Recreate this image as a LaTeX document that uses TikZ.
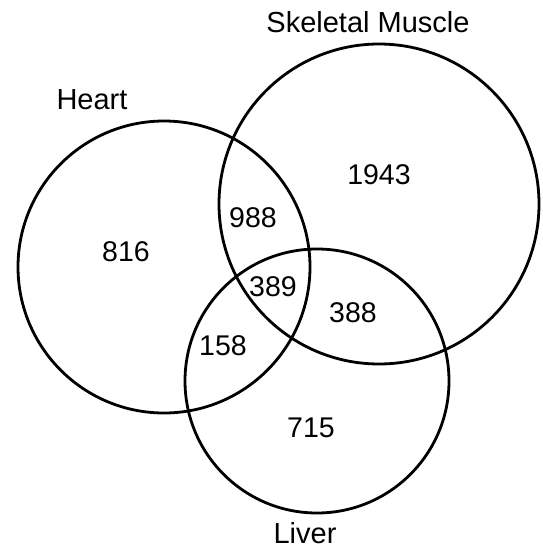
\documentclass[tikz,border=0pt]{standalone}
\usepackage{fontspec}
\setmainfont{Liberation Sans}
\usepackage{tikz}
\usetikzlibrary{positioning}

\begin{document}
\begin{tikzpicture}[x=1pt, y=-1pt,
    set/.style={circle, draw, line width=2.8pt, inner sep=0pt},
    count/.style={inner sep=0pt, font=\fontsize{28.5}{34}\selectfont},
    title/.style={inner sep=0pt, font=\fontsize{29}{34}\selectfont}
]
    \useasboundingbox (0,0) rectangle (542,549);

    % Sets
    \node[set, minimum size=292pt] (heart) at (164,267) {};
    \node[set, minimum size=320pt] (muscle) at (379,204) {};
    \node[set, minimum size=264pt] (liver) at (317,381) {};

    % Set names
    \node[title] (heartname) at (92,100) {Heart};
    \node[title] (musclename) at (368,22) {Skeletal Muscle};
    \node[title] (livername) at (305,533) {Liver};

    % Region counts
    \node[count] (h) at (126,252) {816};
    \node[count] (m) at (379,175) {1943};
    \node[count] (l) at (311,428) {715};
    \node[count] (hm) at (253,218) {988};
    \node[count] (hl) at (223,346) {158};
    \node[count] (ml) at (353,313) {388};
    \node[count] (hml) at (273,287) {389};
\end{tikzpicture}
\end{document}
